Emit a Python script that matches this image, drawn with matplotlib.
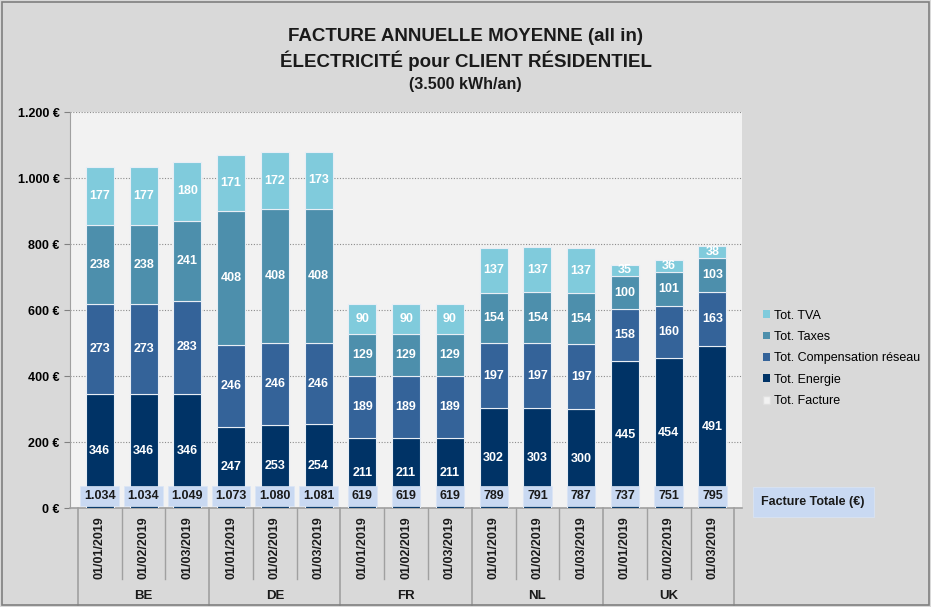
import numpy as np
import matplotlib.pyplot as plt
from matplotlib.patches import Patch, Rectangle
from matplotlib.ticker import FuncFormatter

plt.rcParams['font.family'] = ['Liberation Sans', 'DejaVu Sans']

countries = ['BE', 'DE', 'FR', 'NL', 'UK']
dates = ['01/01/2019', '01/02/2019', '01/03/2019']

energie = [346, 346, 346, 247, 253, 254, 211, 211, 211, 302, 303, 300, 445, 454, 491]
compensation = [273, 273, 283, 246, 246, 246, 189, 189, 189, 197, 197, 197, 158, 160, 163]
taxes = [238, 238, 241, 408, 408, 408, 129, 129, 129, 154, 154, 154, 100, 101, 103]
tva = [177, 177, 180, 171, 172, 173, 90, 90, 90, 137, 137, 137, 35, 36, 38]
totals = ['1.034', '1.034', '1.049', '1.073', '1.080', '1.081', '619', '619', '619',
          '789', '791', '787', '737', '751', '795']

series = [('Tot. Energie', energie, '#003366'),
          ('Tot. Compensation réseau', compensation, '#346399'),
          ('Tot. Taxes', taxes, '#4d8fac'),
          ('Tot. TVA', tva, '#80cbdc')]

fig = plt.figure(figsize=(9.31, 6.07), dpi=100, facecolor='#d9d9d9')
fig.patches.append(Rectangle((0.002, 0.003), 0.996, 0.994, transform=fig.transFigure,
                             fill=False, edgecolor='#7f7f7f', lw=1.2))
ax = fig.add_axes([0.0752, 0.163, 0.722, 0.652])
ax.set_facecolor('#f2f2f2')

x = np.arange(len(energie))
bottom = np.zeros(len(x))
for name, vals, col in series:
    vals = np.array(vals)
    ax.bar(x, vals, 0.64, bottom=bottom, color=col, edgecolor='#e8eef5', lw=0.8, zorder=3)
    for xi, b, v in zip(x, bottom, vals):
        ax.text(xi, b + v / 2, str(v), ha='center', va='center', color='white',
                fontsize=9, fontweight='bold', zorder=4)
    bottom += vals

for xi, t in zip(x, totals):
    ax.text(xi, 37, t, ha='center', va='center', fontsize=9, fontweight='bold',
            color='#1a1a1a', zorder=5,
            bbox=dict(boxstyle='square,pad=0.3', fc='#c9d9f2', ec='#dbe5f5', lw=0.5))

ax.set_xlim(-0.68, len(x) - 0.32)
ax.set_ylim(0, 1200)
ax.set_yticks(np.arange(0, 1201, 200))
ax.yaxis.set_major_formatter(FuncFormatter(lambda v, p: f'{int(v):,} €'.replace(',', '.')))
ax.tick_params(axis='y', labelsize=9, length=4, color='#808080')
for lab in ax.get_yticklabels():
    lab.set_fontweight('bold')
ax.grid(axis='y', color='#8c8c8c', ls=(0, (1, 1.5)), lw=0.8, zorder=0)
ax.set_xticks([])
for s in ['top', 'right']:
    ax.spines[s].set_visible(False)
ax.spines['left'].set_color('#a0a0a0')
ax.spines['bottom'].set_color('#a0a0a0')
ax.spines['bottom'].set_linewidth(1.2)

# category axis: dates and countries
trans = ax.get_xaxis_transform()
for xi in x:
    ax.text(xi, -0.02, dates[xi % 3], rotation=90, ha='center', va='top', fontsize=9,
            fontweight='bold', color='#1a1a1a', transform=trans)
    if xi % 3 != 0:
        ax.plot([xi - 0.5, xi - 0.5], [0, -0.18], color='#a0a0a0', lw=1,
                transform=trans, clip_on=False)
for i, c in enumerate(countries):
    ax.text(3 * i + 1, -0.222, c, ha='center', va='center', fontsize=9.5, fontweight='bold',
            color='#1a1a1a', transform=trans)
for i in range(len(countries) + 1):
    ax.plot([3 * i - 0.5, 3 * i - 0.5], [0, -0.245], color='#a0a0a0', lw=1.2,
            transform=trans, clip_on=False)

handles = [Patch(fc=col, label=name) for name, _, col in reversed(series)]
handles.append(Patch(fc='#f2f2f2', ec='#e0e0e0', label='Tot. Facture'))
fig.legend(handles=handles, loc='upper left', bbox_to_anchor=(0.81, 0.5045), frameon=False,
           fontsize=9, handlelength=0.6, handleheight=0.6, handletextpad=0.3,
           labelspacing=0.75, borderpad=0.2)

fig.text(0.8735, 0.173, 'Facture Totale (€)', ha='center', va='center', fontsize=9,
         fontweight='bold', color='#1a1a1a',
         bbox=dict(boxstyle='square,pad=0.7', fc='#c9d9f2', ec='#dbe5f5', lw=0.5))

fig.text(0.5, 0.94, 'FACTURE ANNUELLE MOYENNE (all in)', ha='center', va='center',
         fontsize=13.5, fontweight='bold', color='#1a1a1a')
fig.text(0.5, 0.9, 'ÉLECTRICITÉ pour CLIENT RÉSIDENTIEL', ha='center', va='center',
         fontsize=13.5, fontweight='bold', color='#1a1a1a')
fig.text(0.5, 0.86, '(3.500 kWh/an)', ha='center', va='center',
         fontsize=11.5, fontweight='bold', color='#1a1a1a')

fig.savefig('out.png', dpi=100, facecolor=fig.get_facecolor())
